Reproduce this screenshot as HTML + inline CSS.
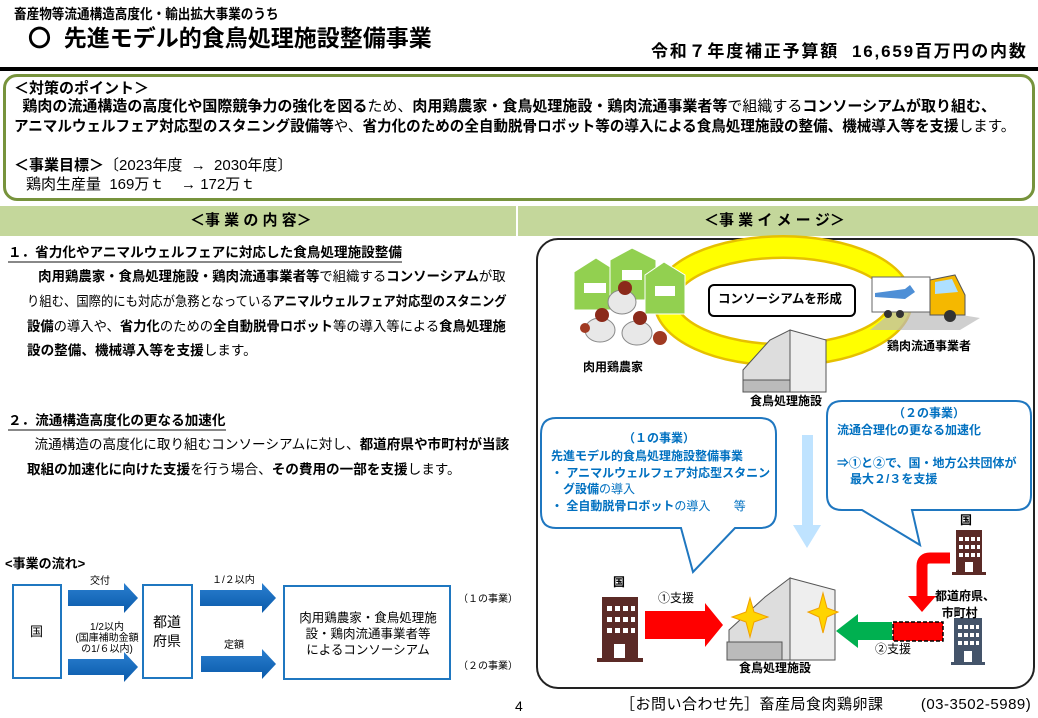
<!DOCTYPE html>
<html><head><meta charset="utf-8">
<style>
*{margin:0;padding:0;box-sizing:border-box}
body{width:1038px;height:718px;background:#fff;position:relative;overflow:hidden;font-family:"Liberation Sans","Noto Sans CJK JP",sans-serif;color:#000}
.a{position:absolute;white-space:nowrap;line-height:1}
b{font-weight:bold}
.bl{color:#0070c0;font-weight:bold}
</style></head><body>
<div class="a" style="left:14px;top:7px;font-size:14px;font-weight:bold;transform:scaleX(.9);transform-origin:left">畜産物等流通構造高度化・輸出拡大事業のうち</div>
<div class="a" style="left:28px;top:27px;font-size:23px;font-weight:bold">〇&nbsp;&nbsp;先進モデル的食鳥処理施設整備事業</div>
<div class="a" style="left:651px;top:43px;font-size:17px;font-weight:bold;letter-spacing:1.8px">令和７年度補正予算額&nbsp;&nbsp;16,659百万円の内数</div>
<div style="position:absolute;left:0;top:67px;width:1038px;height:4px;background:#000"></div>

<div style="position:absolute;left:3px;top:74px;width:1032px;height:127px;border:3px solid #77933c;border-radius:14px"></div>
<div class="a" style="left:14px;top:81px;font-size:15px;font-weight:bold">＜対策のポイント＞</div>
<div class="a" style="left:14px;top:99px;font-size:15px">&nbsp;&nbsp;<b>鶏肉の流通構造の高度化や国際競争力の強化を図る</b>ため、<b>肉用鶏農家・食鳥処理施設・鶏肉流通事業者等</b>で組織する<b>コンソーシアムが取り組む、</b></div>
<div class="a" style="left:14px;top:119px;font-size:15px;transform:scaleX(.97);transform-origin:left"><b>アニマルウェルフェア対応型のスタニング設備等</b>や、<b>省力化のための全自動脱骨ロボット等の導入による食鳥処理施設の整備、機械導入等を支援</b>します。</div>
<div class="a" style="left:14px;top:158px;font-size:15px"><b>＜事業目標＞</b>〔2023年度&nbsp;&nbsp;→&nbsp;&nbsp;2030年度〕</div>
<div class="a" style="left:26px;top:177px;font-size:15px">鶏肉生産量&nbsp;&nbsp;169万ｔ&nbsp;&nbsp;&nbsp;&nbsp;→&nbsp;172万ｔ</div>

<div style="position:absolute;left:0;top:206px;width:516px;height:30px;background:#c4d79b"></div>
<div style="position:absolute;left:518px;top:206px;width:520px;height:30px;background:#c4d79b"></div>
<div class="a" style="left:190px;top:213px;font-size:15px;font-weight:bold">＜事 業 の 内 容＞</div>
<div class="a" style="left:704px;top:213px;font-size:15px;font-weight:bold">＜事 業 イ メ ー ジ＞</div>

<div class="a" style="left:8px;top:246px;font-size:13.6px;font-weight:bold;border-bottom:2px solid #888;padding-bottom:1px">１．省力化やアニマルウェルフェアに対応した食鳥処理施設整備</div>
<div class="a" style="left:27px;top:270px;font-size:13.6px;transform:scaleX(.985);transform-origin:left">&nbsp;&nbsp;&nbsp;<b>肉用鶏農家・食鳥処理施設・鶏肉流通事業者等</b>で組織する<b>コンソーシアム</b>が取</div>
<div class="a" style="left:27px;top:295px;font-size:13.6px;transform:scaleX(.907);transform-origin:left">り組む、国際的にも対応が急務となっている<b>アニマルウェルフェア対応型のスタニング</b></div>
<div class="a" style="left:27px;top:320px;font-size:13.6px;transform:scaleX(.98);transform-origin:left"><b>設備</b>の導入や、<b>省力化</b>のための<b>全自動脱骨ロボット</b>等の導入等による<b>食鳥処理施</b></div>
<div class="a" style="left:27px;top:344px;font-size:13.6px"><b>設の整備、機械導入等を支援</b>します。</div>
<div class="a" style="left:8px;top:414px;font-size:13.6px;font-weight:bold;border-bottom:2px solid #888;padding-bottom:1px">２．流通構造高度化の更なる加速化</div>
<div class="a" style="left:27px;top:438px;font-size:13.6px">&nbsp;&nbsp;流通構造の高度化に取り組むコンソーシアムに対し、<b>都道府県や市町村が当該</b></div>
<div class="a" style="left:27px;top:463px;font-size:13.6px"><b>取組の加速化に向けた支援</b>を行う場合、<b>その費用の一部を支援</b>します。</div>

<div class="a" style="left:5px;top:557px;font-size:13px;font-weight:bold">&lt;事業の流れ&gt;</div>
<div style="position:absolute;left:12px;top:584px;width:50px;height:95px;border:2px solid #1f77c0"></div>
<div class="a" style="left:30px;top:625px;font-size:13px">国</div>
<div style="position:absolute;left:142px;top:584px;width:51px;height:95px;border:2px solid #1f77c0"></div>
<div class="a" style="left:153px;top:613px;font-size:14px;line-height:19px">都道<br>府県</div>
<div style="position:absolute;left:283px;top:585px;width:168px;height:95px;border:2px solid #1f77c0"></div>
<div class="a" style="left:293px;top:610px;font-size:12.5px;line-height:16px;text-align:center;width:150px">肉用鶏農家・食鳥処理施<br>設・鶏肉流通事業者等<br>によるコンソーシアム</div>
<svg style="position:absolute;left:0;top:0" width="520" height="718">
<defs><linearGradient id="ag" x1="0" y1="0" x2="0" y2="1"><stop offset="0" stop-color="#2a7fd0"/><stop offset="1" stop-color="#0a5aaa"/></linearGradient></defs>
<polygon points="68,590 124,590 124,583 138,598 124,613 124,606 68,606" fill="url(#ag)"/>
<polygon points="68,659 124,659 124,652 138,667 124,682 124,675 68,675" fill="url(#ag)"/>
<polygon points="200,590 262,590 262,583 276,598 262,613 262,606 200,606" fill="url(#ag)"/>
<polygon points="201,656 262,656 262,649 276,664 262,679 262,672 201,672" fill="url(#ag)"/>
</svg>
<div class="a" style="left:90px;top:577px;font-size:10px">交付</div>
<div class="a" style="left:71px;top:622px;font-size:10px;line-height:11px;text-align:center;width:72px">1/2以内<br>(国庫補助金額<br>の1/６以内)</div>
<div class="a" style="left:212px;top:576px;font-size:10px">１/２以内</div>
<div class="a" style="left:224px;top:641px;font-size:10px">定額</div>
<div class="a" style="left:458px;top:595px;font-size:10px">（１の事業）</div>
<div class="a" style="left:458px;top:662px;font-size:10px">（２の事業）</div>

<div style="position:absolute;left:536px;top:238px;width:499px;height:451px;border:2px solid #222;border-radius:22px"></div>
<svg style="position:absolute;left:0;top:0" width="1038" height="718">
<ellipse cx="783" cy="301" rx="118" ry="54" fill="none" stroke="#e6c000" stroke-width="24"/>
<ellipse cx="783" cy="301" rx="118" ry="54" fill="none" stroke="#ffff00" stroke-width="19"/>
<rect x="709" y="285" width="146" height="31" rx="5" fill="#fff" stroke="#000" stroke-width="2"/>
<g fill="#92d050" stroke="#fff" stroke-width="1">
<polygon points="574,296 574,272 596,258 618,272 618,310 574,310"/>
<polygon points="610,282 610,260 632,248 656,260 656,300 610,300"/>
<polygon points="645,298 645,275 664,262 685,275 685,314 645,314"/>
</g>
<g fill="#fff"><rect x="584" y="283" width="22" height="10"/><rect x="622" y="270" width="20" height="10"/><rect x="655" y="286" width="20" height="10"/></g>
<g><ellipse cx="622" cy="302" rx="14" ry="12" fill="#e8e8e8" stroke="#888"/><circle cx="625" cy="288" r="7" fill="#8b2a1a"/>
<ellipse cx="600" cy="330" rx="15" ry="12" fill="#e8e8e8" stroke="#888"/><circle cx="602" cy="315" r="7" fill="#8b2a1a"/>
<ellipse cx="637" cy="333" rx="15" ry="12" fill="#e8e8e8" stroke="#888"/><circle cx="640" cy="318" r="7" fill="#8b2a1a"/>
<circle cx="660" cy="338" r="7" fill="#a03a22"/><circle cx="585" cy="328" r="5" fill="#a03a22"/></g>
<polygon points="870,330 960,330 980,318 900,305" fill="#bbb" opacity=".7"/>
<rect x="872" y="277" width="58" height="35" fill="#fff" stroke="#666"/>
<polygon points="875,293 905,289 910,285 915,292 905,299 875,297" fill="#4e8fd6"/>
<polygon points="930,280 955,275 965,295 965,315 930,315" fill="#f5b800" stroke="#555"/>
<polygon points="935,282 952,279 958,292 935,294" fill="#aee0ff"/>
<circle cx="888" cy="314" r="4" fill="#333"/><circle cx="900" cy="314" r="4" fill="#333"/><circle cx="950" cy="316" r="6" fill="#333"/>
<g stroke="#555" stroke-width="1">
<polygon points="743,392 743,370 770,340 790,330 790,392" fill="#ddd"/>
<polygon points="790,330 826,340 826,392 790,392" fill="#eee"/>
<rect x="743" y="380" width="47" height="12" fill="#bbb"/>
</g>
<path d="M556,418 H760 Q776,418 776,434 V512 Q776,528 760,528 H735 L693,572 L681,528 H556 Q541,528 541,512 V434 Q541,418 556,418 Z" fill="#fff" stroke="#1f77c0" stroke-width="2"/>
<path d="M842,401 H1016 Q1031,401 1031,416 V495 Q1031,510 1016,510 H912 L920,545 L862,510 H842 Q827,510 827,495 V416 Q827,401 842,401 Z" fill="#fff" stroke="#1f77c0" stroke-width="2"/>
<polygon points="802,435 813,435 813,525 821,525 807,548 793,525 802,525" fill="#bfe3ff"/>
<rect x="602" y="597" width="36" height="63" fill="#5b2a26"/><rect x="597" y="658" width="46" height="4" fill="#5b2a26"/>
<g fill="#fff"><rect x="607" y="606" width="5" height="5"/><rect x="615" y="606" width="5" height="5"/><rect x="623" y="606" width="5" height="5"/><rect x="631" y="606" width="4" height="5"/>
<rect x="607" y="617" width="5" height="5"/><rect x="615" y="617" width="5" height="5"/><rect x="623" y="617" width="5" height="5"/><rect x="631" y="617" width="4" height="5"/>
<rect x="607" y="628" width="5" height="5"/><rect x="615" y="628" width="5" height="5"/><rect x="623" y="628" width="5" height="5"/><rect x="631" y="628" width="4" height="5"/>
<rect x="614" y="644" width="11" height="14"/></g>
<polygon points="645,611 705,611 705,603 723,625 705,647 705,639 645,639" fill="#ff0000"/>
<g stroke="#555" stroke-width="1">
<polygon points="729,660 729,630 765,597 790,578 790,660" fill="#ddd"/>
<polygon points="790,578 835,590 835,660 790,660" fill="#eee"/>
<rect x="727" y="642" width="55" height="18" fill="#bbb"/>
</g>
<polygon points="750,598 754,612 768,617 754,622 750,637 746,622 732,617 746,612" fill="#ffd400" stroke="#f0a000"/>
<polygon points="823,593 827,608 838,612 827,617 823,633 819,617 808,612 819,608" fill="#ffd400" stroke="#f0a000"/>
<polygon points="892,622 858,622 858,614 836,631 858,648 858,640 892,640" fill="#00b050"/>
<rect x="893" y="622" width="50" height="19" fill="#ff0000" stroke="#000" stroke-width="1.5" stroke-dasharray="4,2"/>
<rect x="956" y="530" width="26" height="43" fill="#5b2a26"/><rect x="952" y="572" width="34" height="3" fill="#5b2a26"/>
<g fill="#fff"><rect x="959" y="537" width="4" height="4"/><rect x="965" y="537" width="4" height="4"/><rect x="971" y="537" width="4" height="4"/><rect x="977" y="537" width="3" height="4"/>
<rect x="959" y="545" width="4" height="4"/><rect x="965" y="545" width="4" height="4"/><rect x="971" y="545" width="4" height="4"/><rect x="977" y="545" width="3" height="4"/>
<rect x="959" y="553" width="4" height="4"/><rect x="965" y="553" width="4" height="4"/><rect x="971" y="553" width="4" height="4"/><rect x="977" y="553" width="3" height="4"/>
<rect x="965" y="562" width="8" height="10"/></g>
<path d="M950,558 H930 Q922,558 922,566 V598" fill="none" stroke="#ff0000" stroke-width="11"/>
<polygon points="908,596 936,596 922,612" fill="#ff0000"/>
<rect x="954" y="618" width="28" height="45" fill="#44546a"/><rect x="951" y="662" width="34" height="3" fill="#44546a"/>
<g fill="#fff"><rect x="958" y="625" width="4" height="4"/><rect x="964" y="625" width="4" height="4"/><rect x="970" y="625" width="4" height="4"/><rect x="976" y="625" width="3" height="4"/>
<rect x="958" y="633" width="4" height="4"/><rect x="964" y="633" width="4" height="4"/><rect x="970" y="633" width="4" height="4"/><rect x="976" y="633" width="3" height="4"/>
<rect x="958" y="641" width="4" height="4"/><rect x="964" y="641" width="4" height="4"/><rect x="970" y="641" width="4" height="4"/><rect x="976" y="641" width="3" height="4"/>
<rect x="964" y="651" width="8" height="11"/></g>
</svg>
<div class="a" style="left:718px;top:293px;font-size:12.5px;font-weight:bold">コンソーシアムを形成</div>
<div class="a" style="left:583px;top:361px;font-size:12px;font-weight:bold">肉用鶏農家</div>
<div class="a" style="left:750px;top:395px;font-size:12px;font-weight:bold">食鳥処理施設</div>
<div class="a" style="left:887px;top:340px;font-size:12px;font-weight:bold">鶏肉流通事業者</div>

<div class="a bl" style="left:623px;top:432px;font-size:12px">（１の事業）</div>
<div class="a bl" style="left:551px;top:450px;font-size:12px">先進モデル的食鳥処理施設整備事業</div>
<div class="a bl" style="left:551px;top:467px;font-size:12px">・&nbsp;アニマルウェルフェア対応型スタニン</div>
<div class="a bl" style="left:563px;top:483px;font-size:12px">グ設備<span style="font-weight:normal">の導入</span></div>
<div class="a bl" style="left:551px;top:500px;font-size:12px">・&nbsp;全自動脱骨ロボット<span style="font-weight:normal">の導入</span>&nbsp;&nbsp;&nbsp;&nbsp;&nbsp;&nbsp;&nbsp;<span style="font-weight:normal">等</span></div>
<div class="a bl" style="left:893px;top:407px;font-size:12px">（２の事業）</div>
<div class="a bl" style="left:837px;top:424px;font-size:12px">流通合理化の更なる加速化</div>
<div class="a bl" style="left:837px;top:457px;font-size:12px">⇒①と②で、国・地方公共団体が</div>
<div class="a bl" style="left:850px;top:473px;font-size:12px">最大２/３を支援</div>

<div class="a" style="left:613px;top:576px;font-size:12px;font-weight:bold">国</div>
<div class="a" style="left:658px;top:592px;font-size:12px">①支援</div>
<div class="a" style="left:739px;top:662px;font-size:12px;font-weight:bold">食鳥処理施設</div>
<div class="a" style="left:875px;top:643px;font-size:12px">②支援</div>
<div class="a" style="left:960px;top:514px;font-size:12px;font-weight:bold">国</div>
<div class="a" style="left:935px;top:588px;font-size:12px;font-weight:bold;line-height:17px">都道府県、<br>&nbsp;&nbsp;市町村</div>

<div class="a" style="left:515px;top:699px;font-size:14px">4</div>
<div class="a" style="left:620px;top:697px;font-size:15px;letter-spacing:.5px">［お問い合わせ先］畜産局食肉鶏卵課&nbsp;&nbsp;&nbsp;&nbsp;&nbsp;&nbsp;&nbsp;&nbsp;(03-3502-5989)</div>
</body></html>
